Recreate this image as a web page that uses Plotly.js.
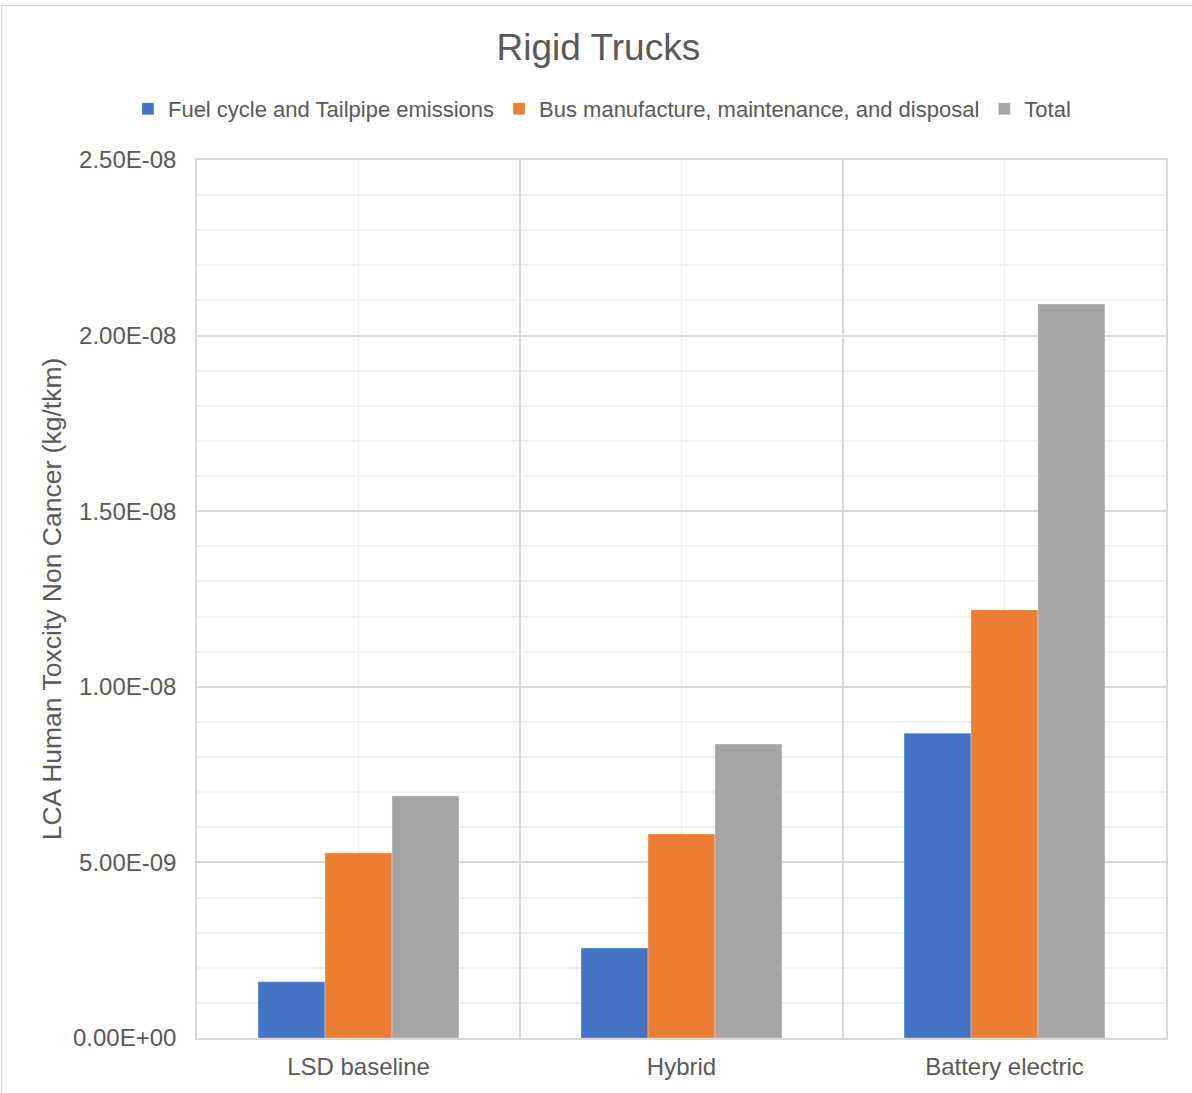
<!DOCTYPE html>
<html>
<head>
<meta charset="utf-8">
<script src="https://cdn.plot.ly/plotly-3.0.1.min.js"></script>
<style>
  html, body { margin: 0; padding: 0; background: #fff; }
  #wrap { position: relative; width: 1192px; height: 1093px; }
  #chart { width: 1192px; height: 1093px; }
  #frame { position: absolute; left: 1px; top: 5px; width: 1200px; height: 1100px;
           border-top: 1px solid #d9d9d9; border-left: 1px solid #d9d9d9; pointer-events: none; }
</style>
</head>
<body>
<div id="wrap">
  <div id="chart"></div>
  <div id="frame"></div>
</div>
<script>
const categories = ["LSD baseline", "Hybrid", "Battery electric"];
const seriesNames = ["Fuel cycle and Tailpipe emissions", "Bus manufacture, maintenance, and disposal", "Total"];
const fuelCycle = [1.6e-9, 2.56e-9, 8.68e-9];
const busManufacture = [5.27e-9, 5.81e-9, 12.19e-9];
const total = [6.89e-9, 8.37e-9, 20.9e-9];
const yTickVals = [0, 5e-9, 1e-8, 1.5e-8, 2e-8, 2.5e-8];
const yTickText = ["0.00E+00", "5.00E-09", "1.00E-08", "1.50E-08", "2.00E-08", "2.50E-08"];
const colors = ["#4472C4", "#ED7D31", "#A5A5A5"];

const values = [fuelCycle, busManufacture, total];
const traces = values.map((v, i) => ({
  type: "bar",
  name: seriesNames[i],
  x: categories,
  y: v,
  marker: { color: colors[i], line: { color: "rgba(255,255,255,0.6)", width: 0.5 } },
  hoverinfo: "x+y+name"
}));

const font = "Arial, 'Liberation Sans', sans-serif";
const textColor = "#595959";

const centerLines = categories.map(c => ({
  type: "line", xref: "x", yref: "paper",
  x0: c, x1: c, y0: 0, y1: 1,
  line: { color: "#efefef", width: 1.5 }, layer: "below"
}));

const layout = {
  width: 1192, height: 1093,
  paper_bgcolor: "#fff", plot_bgcolor: "#fff",
  margin: { l: 197, r: 26, t: 160, b: 55 },
  font: { family: font, color: textColor },
  title: {
    text: "Rigid Trucks",
    font: { size: 37, color: textColor, family: font },
    x: 0.502, xref: "container", xanchor: "center",
    y: 1 - 47 / 1093, yref: "container", yanchor: "middle"
  },
  barmode: "group",
  bargap: 0.378,
  bargroupgap: 0,
  showlegend: true,
  legend: {
    orientation: "h",
    xref: "container", yref: "container",
    x: 0.505, xanchor: "center",
    y: 1 - 109 / 1093, yanchor: "middle",
    font: { size: 22, color: textColor, family: font },
    itemwidth: 30,
    traceorder: "normal"
  },
  xaxis: {
    type: "category",
    tickson: "boundaries",
    showgrid: true,
    gridcolor: "#d9d9d9",
    gridwidth: 1.5,
    ticks: "",
    showline: true,
    linecolor: "#d9d9d9",
    linewidth: 1.5,
    mirror: true,
    ticklabelstandoff: 6,
    tickfont: { size: 24, color: textColor, family: font },
    fixedrange: true
  },
  yaxis: {
    range: [0, 2.5e-8],
    tickvals: yTickVals,
    ticktext: yTickText,
    tickfont: { size: 24, color: textColor, family: font },
    ticklabelstandoff: 14,
    showgrid: true,
    gridcolor: "#d9d9d9",
    gridwidth: 1.5,
    zeroline: false,
    showline: true,
    linecolor: "#d9d9d9",
    linewidth: 1.5,
    mirror: true,
    ticks: "",
    ticklen: 0,
    minor: { dtick: 1e-9, tick0: 0, showgrid: true, gridcolor: "#f0f0f0", gridwidth: 1.5 },
    title: {
      text: "LCA Human Toxcity Non Cancer (kg/tkm)",
      font: { size: 26.5, color: textColor, family: font },
      standoff: 4
    },
    fixedrange: true
  },
  shapes: centerLines
};

Plotly.newPlot("chart", traces, layout, { displayModeBar: false, staticPlot: false });
</script>
</body>
</html>
